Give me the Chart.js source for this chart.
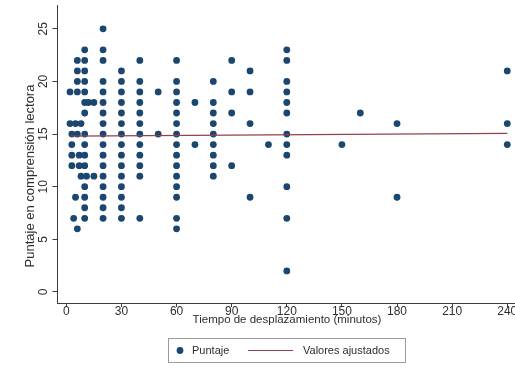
<!DOCTYPE html>
<html>
<head>
<meta charset="utf-8">
<script src="https://cdn.jsdelivr.net/npm/chart.js@4/dist/chart.umd.min.js"></script>
<style>
  html, body { margin: 0; padding: 0; background: #fff; overflow: hidden; }
  #wrap { position: absolute; left: 0; top: 0; width: 540px; height: 380px; }
</style>
</head>
<body>
<div id="wrap"><canvas id="c" width="540" height="380"></canvas></div>
<script>
// Axis ticks
const xTicks = [0, 30, 60, 90, 120, 150, 180, 210, 240];
const yTicks = [0, 5, 10, 15, 20, 25];

// Observations: travel time (minutes) and reading score, one row per score level
const tiempo = [
  20,
  10, 20, 120,
  6, 10, 20, 40, 60, 90, 120,
  6, 10, 30, 100, 240,
  6, 10, 20, 30, 40, 60, 80, 120,
  2, 6, 10, 20, 30, 40, 50, 60, 90, 100, 120,
  10, 12, 15, 20, 30, 40, 60, 70, 80, 120,
  10, 20, 30, 40, 60, 80, 90, 120, 160,
  2, 5, 8, 20, 30, 40, 60, 80, 100, 180, 240,
  3, 6, 10, 20, 30, 40, 50, 60, 80, 120,
  3, 10, 20, 30, 40, 60, 70, 80, 110, 120, 150, 240,
  3, 7, 10, 20, 30, 40, 60, 80, 120,
  3, 7, 10, 20, 30, 40, 60, 80, 90,
  8, 11, 15, 20, 30, 40, 60, 80,
  10, 20, 30, 60, 120,
  5, 10, 20, 30, 60, 100, 180,
  10, 20, 30,
  4, 10, 20, 30, 40, 60, 120,
  6, 60,
  120
];
const puntaje = [
  25,
  23, 23, 23,
  22, 22, 22, 22, 22, 22, 22,
  21, 21, 21, 21, 21,
  20, 20, 20, 20, 20, 20, 20, 20,
  19, 19, 19, 19, 19, 19, 19, 19, 19, 19, 19,
  18, 18, 18, 18, 18, 18, 18, 18, 18, 18,
  17, 17, 17, 17, 17, 17, 17, 17, 17,
  16, 16, 16, 16, 16, 16, 16, 16, 16, 16, 16,
  15, 15, 15, 15, 15, 15, 15, 15, 15, 15,
  14, 14, 14, 14, 14, 14, 14, 14, 14, 14, 14, 14,
  13, 13, 13, 13, 13, 13, 13, 13, 13,
  12, 12, 12, 12, 12, 12, 12, 12, 12,
  11, 11, 11, 11, 11, 11, 11, 11,
  10, 10, 10, 10, 10,
  9, 9, 9, 9, 9, 9, 9,
  8, 8, 8,
  7, 7, 7, 7, 7, 7, 7,
  6, 6,
  2
];

// Fitted values line (end points)
const ajusteTiempo = [2, 240];
const ajustePuntaje = [14.8, 15.07];

const xTitle = 'Tiempo de desplazamiento (minutos)';
const yTitle = 'Puntaje en comprensión lectora';
const legendLabels = ['Puntaje', 'Valores ajustados'];

const NAVY = '#1a466f';
const MAROON = '#94404a';
const AXIS = '#3c3c3c';
const TEXT = '#2e2e2e';
const FONT = '"Liberation Sans", Arial, sans-serif';

const puntos = tiempo.map((t, i) => ({ x: t, y: puntaje[i] }));
const ajuste = ajusteTiempo.map((t, i) => ({ x: t, y: ajustePuntaje[i] }));

// Rotated y tick labels, axis titles and the boxed legend
const decor = {
  id: 'decor',
  afterDraw(chart) {
    const { ctx, scales: { x, y } } = chart;
    ctx.save();
    ctx.fillStyle = TEXT;

    ctx.font = '12px ' + FONT;
    ctx.textAlign = 'center';
    ctx.textBaseline = 'alphabetic';
    yTicks.forEach(v => {
      const py = y.getPixelForValue(v);
      ctx.save();
      ctx.translate(46.5, py);
      ctx.rotate(-Math.PI / 2);
      ctx.fillText(String(v), 0, 0);
      ctx.restore();
    });

    ctx.font = '13px ' + FONT;
    ctx.save();
    ctx.translate(33.5, 176);
    ctx.rotate(-Math.PI / 2);
    ctx.fillText(yTitle, 0, 0);
    ctx.restore();

    ctx.font = '11.5px ' + FONT;
    ctx.fillText(xTitle, 287, 322.5);

    // legend
    ctx.strokeStyle = '#9a9a9a';
    ctx.lineWidth = 1;
    ctx.strokeRect(168.5, 338.5, 237, 24);
    ctx.fillStyle = NAVY;
    ctx.beginPath();
    ctx.arc(180, 350.5, 3.4, 0, Math.PI * 2);
    ctx.fill();
    ctx.strokeStyle = MAROON;
    ctx.lineWidth = 1.2;
    ctx.beginPath();
    ctx.moveTo(248, 350.5);
    ctx.lineTo(293, 350.5);
    ctx.stroke();
    ctx.fillStyle = TEXT;
    ctx.font = '11px ' + FONT;
    ctx.textAlign = 'left';
    ctx.textBaseline = 'middle';
    ctx.fillText(legendLabels[0], 192, 351);
    ctx.fillText(legendLabels[1], 303, 351);
    ctx.restore();
  }
};

new Chart(document.getElementById('c'), {
  type: 'scatter',
  data: {
    datasets: [
      {
        label: legendLabels[0],
        data: puntos,
        backgroundColor: NAVY,
        borderColor: NAVY,
        borderWidth: 0,
        pointRadius: 3.4,
        order: 1
      },
      {
        type: 'line',
        label: legendLabels[1],
        data: ajuste,
        borderColor: MAROON,
        borderWidth: 1.2,
        pointRadius: 0,
        fill: false,
        order: 0
      }
    ]
  },
  options: {
    responsive: false,
    animation: false,
    devicePixelRatio: 1,
    events: [],
    layout: { padding: { top: 5, right: 21.7, left: 0, bottom: 0 } },
    plugins: { legend: { display: false }, tooltip: { enabled: false } },
    scales: {
      x: {
        type: 'linear',
        min: -4.8,
        max: 246,
        afterBuildTicks: s => { s.ticks = xTicks.map(v => ({ value: v })); },
        afterFit: s => { s.height = 77; },
        border: { display: true, color: AXIS, width: 1 },
        grid: { drawOnChartArea: false, drawTicks: true, tickLength: 4, color: AXIS },
        ticks: {
          color: TEXT,
          font: { family: FONT, size: 12 },
          padding: -3,
          maxRotation: 0,
          autoSkip: false
        }
      },
      y: {
        type: 'linear',
        min: -1.045,
        max: 27.26,
        afterBuildTicks: s => { s.ticks = yTicks.map(v => ({ value: v })); },
        afterFit: s => { s.width = 57.5; },
        border: { display: true, color: AXIS, width: 1 },
        grid: { drawOnChartArea: false, drawTicks: true, tickLength: 5, color: AXIS },
        ticks: { display: false }
      }
    }
  },
  plugins: [decor]
});
</script>
</body>
</html>
